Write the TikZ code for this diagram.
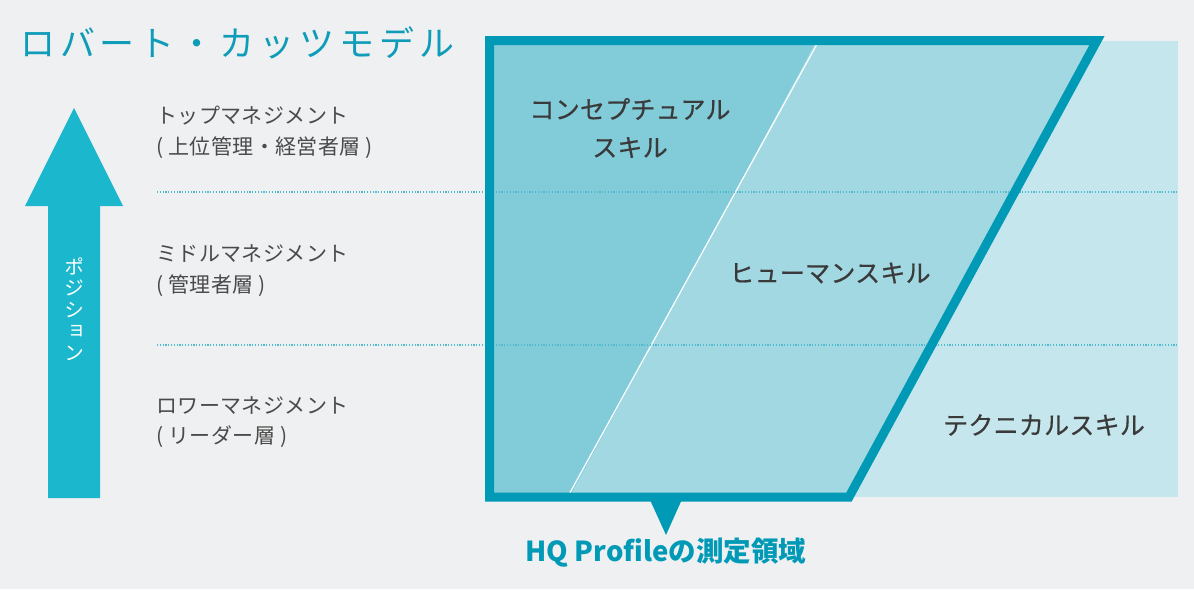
\documentclass[tikz,border=0pt]{standalone}
\usepackage{fontspec}
\newfontfamily\jp{Noto Sans CJK JP}
\newfontfamily\jpvert[RawFeature=+vert]{Noto Sans CJK JP}
\usepackage{xcolor}
\usetikzlibrary{positioning}
\definecolor{bggray}{HTML}{EFF0F2}
\definecolor{framecol}{HTML}{009AB7}
\definecolor{arrowcol}{HTML}{1AB7CD}
\definecolor{titlecol}{HTML}{0E9CB8}
\definecolor{concol}{HTML}{82CCDA}
\definecolor{humcol}{HTML}{A2D8E2}
\definecolor{teccol}{HTML}{C5E6EC}
\definecolor{dotcol}{HTML}{4FBAD0}
\definecolor{labelcol}{HTML}{4A4A4A}
\definecolor{skillcol}{HTML}{3A3A3A}
\tikzset{
	level label/.style={anchor=west,align=left,inner sep=0pt,text=labelcol,
		font=\jp\addfontfeature{LetterSpace=2}\fontsize{21}{30.5}\selectfont},
	skill label/.style={align=center,inner sep=0pt,text=skillcol,
		font=\jp\addfontfeature{FakeBold=0.6,LetterSpace=1}\fontsize{25}{38}\selectfont},
	level line/.style={draw=dotcol,line width=1.2pt,dash pattern=on 1.2pt off 1.6pt}
}

\begin{document}
\begin{tikzpicture}[x=1pt,y=-1pt]
	\fill[bggray] (0,0) rectangle (1194,589);
	\useasboundingbox (0,0) rectangle (1194,589);
	\fill[arrowcol] (48,498) -- (48,206) -- (25,206) -- (74,108) -- (123,206) -- (100,206) -- (100,498) -- cycle;
	\node [text=white,align=center,inner sep=0pt,font=\jpvert\fontsize{20}{21.5}\selectfont] (pos) at (74,309) {ポ\\ジ\\シ\\ョ\\ン};
	\node [anchor=west,inner sep=0pt,text=titlecol,font=\jp\addfontfeature{LetterSpace=14}\fontsize{35}{40}\selectfont] (title) at (20,43) {ロバート・カッツモデル};
	\fill[teccol] (500,40.5) rectangle (1178,497);
	\fill[concol] (489.5,40.5) -- (817,40.5) -- (569.8,497) -- (489.5,497) -- cycle;
	\fill[humcol] (817,40.5) -- (1097,40.5) -- (849,497) -- (569.8,497) -- cycle;
	\draw[white,line width=1.2pt] (817,44) -- (569.8,493);
	\coordinate (top l) at (157,192);
	\coordinate (top r) at (1178,192);
	\coordinate (low l) at (157,345);
	\coordinate (low r) at (1178,345);
	\draw[level line] (top l) -- (top r);
	\draw[level line] (low l) -- (low r);
	\draw[framecol,line width=9pt,line join=miter] (489.5,40.5) -- (1097,40.5) -- (849,497) -- (489.5,497) -- cycle;
	\fill[framecol] (648.7,497) -- (683,497) -- (666,535) -- cycle;
	\node [level label] (top) at (156,132.5) {トップマネジメント\\( 上位管理・経営者層 )};
	\node [level label] (mid) at (156,270.5) {ミドルマネジメント\\( 管理者層 )};
	\node [level label] (low) at (156,422) {ロワーマネジメント\\( リーダー層 )};
	\node [skill label] (con) at (630,128) {コンセプチュアル\\スキル};
	\node [skill label] (hum) at (830,273) {ヒューマンスキル};
	\node [skill label] (tec) at (1044,425) {テクニカルスキル};
	\node [inner sep=0pt,text=framecol,font=\jp\bfseries\fontsize{27.5}{32}\selectfont] (hq) at (666,553) {HQ Profileの測定領域};
\end{tikzpicture}
\end{document}
